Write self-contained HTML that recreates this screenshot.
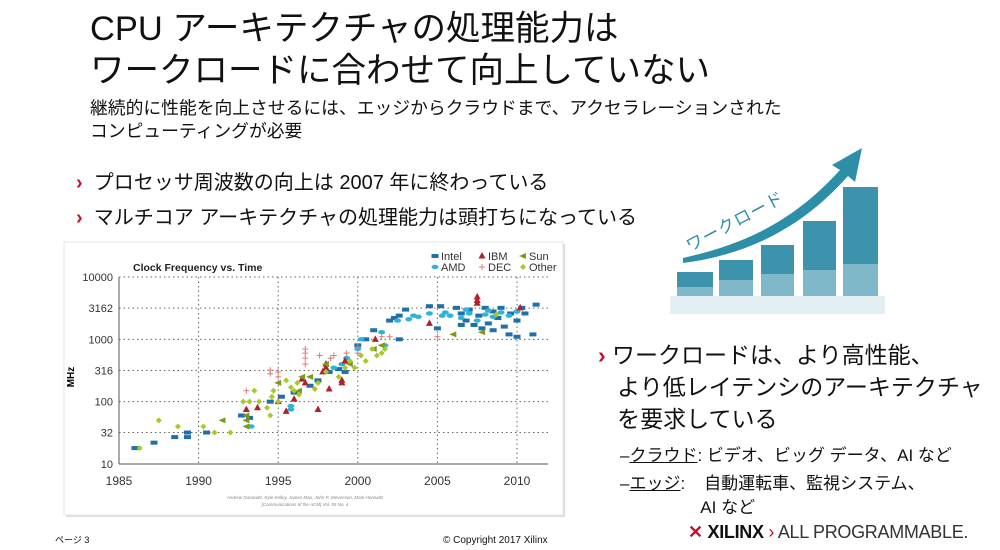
<!DOCTYPE html>
<html><head><meta charset="utf-8">
<style>
body{margin:0;width:1000px;height:550px;background:#fff;overflow:hidden;position:relative;font-family:"Liberation Sans","Noto Sans CJK JP",sans-serif;color:#111}
.a{position:absolute;white-space:nowrap}
.chev{color:#c8102e;font-weight:bold}
</style></head><body>
<div class="a" style="left:90px;top:8px;font-size:34.5px;line-height:42px">CPU アーキテクチャの処理能力は</div>
<div class="a" style="left:90px;top:50px;font-size:34.5px;line-height:42px">ワークロードに合わせて向上していない</div>
<div class="a" style="left:90px;top:97px;font-size:17.8px;line-height:23px">継続的に性能を向上させるには、エッジからクラウドまで、アクセラレーションされた<br>コンピューティングが必要</div>
<div class="a" style="left:76px;top:166px;font-size:20px"><span class="chev">›</span>&nbsp; プロセッサ周波数の向上は 2007 年に終わっている</div>
<div class="a" style="left:76px;top:201px;font-size:20px"><span class="chev">›</span>&nbsp; マルチコア アーキテクチャの処理能力は頭打ちになっている</div>

<svg class="a" style="left:0;top:0" width="1000" height="550">
<rect x="66" y="244" width="499" height="273" fill="#ddd"/>
<rect x="64" y="242" width="499" height="273" fill="#fff" stroke="#e6e6e6"/>
<g id="chart"></g>
<g>
<path d="M683,258 C740,245 790,225 840,170 L832,165 L862,148 L855,182 L848,176 C800,230 745,255 683,263 Z" fill="#2d8ea8"/>
<text x="0" y="0" transform="translate(690,252) rotate(-28)" font-size="17" fill="#2d8ea8" letter-spacing="1">ワークロード</text>
<rect x="677" y="272" width="36" height="24" fill="#3c93ab"/><rect x="677" y="287" width="36" height="9" fill="#7fb9c9"/>
<rect x="719" y="260" width="34" height="36" fill="#3c93ab"/><rect x="719" y="280" width="34" height="16" fill="#7fb9c9"/>
<rect x="761" y="245" width="33" height="51" fill="#3c93ab"/><rect x="761" y="274" width="33" height="22" fill="#7fb9c9"/>
<rect x="803" y="221" width="33" height="75" fill="#3c93ab"/><rect x="803" y="270" width="33" height="26" fill="#7fb9c9"/>
<rect x="843" y="187" width="35" height="109" fill="#3c93ab"/><rect x="843" y="264" width="35" height="32" fill="#7fb9c9"/>
<rect x="670" y="296" width="215" height="18" fill="#e3eff3"/>
</g>
</svg>

<div class="a" style="left:598px;top:339px;font-size:23px;line-height:32px"><span class="chev">›</span>&nbsp;ワークロードは、より高性能、<br>&nbsp;&nbsp;&nbsp;より低レイテンシのアーキテクチャ<br>&nbsp;&nbsp;&nbsp;を要求している</div>
<div class="a" style="left:620px;top:441px;font-size:17px">–<u>クラウド</u>: ビデオ、ビッグ データ、AI など</div>
<div class="a" style="left:620px;top:472px;font-size:17px;line-height:24px">–<u>エッジ</u>:&nbsp;&nbsp;&nbsp;&nbsp;自動運転車、監視システム、<br>&nbsp;&nbsp;&nbsp;&nbsp;&nbsp;&nbsp;&nbsp;&nbsp;&nbsp;&nbsp;&nbsp;&nbsp;&nbsp;&nbsp;&nbsp;&nbsp;&nbsp;AI など</div>
<div class="a" style="left:55px;top:533px;font-size:9px">ページ 3</div>
<div class="a" style="left:443px;top:535px;font-size:10px">© Copyright 2017 Xilinx</div>
<div class="a" style="left:688px;top:522px;font-size:18px;letter-spacing:-0.3px"><span style="color:#c8102e;font-weight:bold">✕</span> <b>XILINX</b> <span style="color:#c8102e">›</span> <span style="color:#333">ALL PROGRAMMABLE.</span></div>

<script>
const yearTicks=[1985,1990,1995,2000,2005,2010];
const mhzTicks=[10,32,100,316,1000,3162,10000];
const intel=[[1986,18],[1987.2,22],[1988.5,27],[1989.3,27],[1989.3,32],[1990.5,32],[1992.7,60],[1993.2,55],[1994.5,100],[1995.2,120],[1996,140],[1997,180],[1997.5,220],[1998.2,300],[1998.8,333],[1999.2,300],[2000,800],[2000.5,1000],[2001,1400],[2002,2000],[2002.3,2200],[2002.6,2400],[2002.6,1000],[2003,3000],[2004.5,3400],[2005.2,3400],[2005,1500],[2006.2,3200],[2006.5,2600],[2006.8,2000],[2007,3000],[2007.3,1700],[2007.6,2400],[2008,3200],[2008.2,1800],[2008.5,2800],[2008.8,2200],[2009,3200],[2009.2,1600],[2009.5,1200],[2009.6,2600],[2010,1100],[2010,2000],[2010.3,3200],[2010.5,2600],[2011,1200],[2011.2,3600],[2006.5,1700],[2007.8,1500],[2008.5,1400]];
const amd=[[1993.3,40],[1995.8,85],[1995.8,75],[1998.5,350],[1999,400],[1999.3,500],[2000,700],[2000.2,1000],[2001.5,1300],[2001.7,800],[2002.5,2000],[2003.2,2100],[2003.5,2400],[2003.8,2300],[2004.5,2600],[2005.3,2400],[2005.5,2700],[2005.8,2400],[2006.5,2200],[2007,2600],[2007.5,2000],[2008,2500],[2008.5,2300],[2009,2700],[2009.5,2400],[2010,2800],[2006.8,3000],[2008.2,2900]];
const ibm=[[1993,75],[1993.7,80],[1995,100],[1995.5,70],[1996,110],[1996.5,230],[1996.7,200],[1997.5,75],[1997.8,300],[1998,350],[1998,400],[1998.2,160],[1999,200],[1999,220],[1999.2,450],[2001.1,1000],[2004.5,1800],[2007.5,4800],[2007.5,4200],[2007.5,3800],[2010.2,3200]];
const dec=[[1993,150],[1994.5,280],[1994.5,320],[1995,300],[1995,250],[1996.7,500],[1996.7,600],[1996.7,400],[1996.7,700],[1997.6,550],[1998.3,500],[1998.5,550],[1999.3,600],[2000,750],[2000,600],[2001.5,1100],[2002,1100],[2005,1100]];
const sun=[[1991.5,50],[1993,50],[1993,40],[1993,60],[1995,200],[1996.3,150],[1996.5,250],[1997,250],[1998,400],[1999.5,400],[2001,700],[2001.5,800],[2006,1200],[2007.8,1300]];
const other=[[1986.3,18],[1987.5,50],[1988.7,40],[1990.3,40],[1991,32],[1992,32],[1992.8,100],[1993.2,100],[1993.5,150],[1993.8,100],[1994.3,80],[1994.5,60],[1994.6,120],[1994.7,150],[1995,100],[1995.5,220],[1995.8,170],[1996,150],[1996.2,200],[1996.3,130],[1997.3,160],[1997.5,200],[1998,300],[1998.8,250],[1999.2,350],[1999.5,450],[1999.8,350],[2000.2,550],[2000.5,450],[2000.9,700],[2001.2,550],[2001.5,600],[2001.7,700],[2008.7,2500]];
const series=[["intel",intel,"#1f6fa8","rect"],["amd",amd,"#2fb3d6","oval"],["ibm",ibm,"#b3202a","tri"],["dec",dec,"#e07a7a","plus"],["sun",sun,"#7a9a1a","ltri"],["other",other,"#a8c82a","dia"]];
const L=119,R=548,T=277,B=464;
const X=y=>L+(y-1985)*(517-119)/25;
const Y=m=>B-(Math.log10(m)-1)*(B-T)/3;
const g=document.getElementById('chart');
const NS='http://www.w3.org/2000/svg';
function mk(t,a,p){const e=document.createElementNS(NS,t);for(const k in a)e.setAttribute(k,a[k]);(p||g).appendChild(e);return e;}
let e=mk('text',{x:133,y:271,'font-size':10.5,'font-weight':'bold',fill:'#222'});e.textContent='Clock Frequency vs. Time';


mhzTicks.forEach(m=>{const l=mk('line',{x1:L,x2:R,y1:Y(m),y2:Y(m),stroke:m==10?'#555':'#666','stroke-dasharray':m==10?'':'1.5 3'});


const t=mk('text',{x:L-6,y:Y(m)+4,'font-size':11,'text-anchor':'end',fill:'#333'});t.textContent=m;

});
yearTicks.forEach(y=>{if(y>1985){const l=mk('line',{x1:X(y),x2:X(y),y1:T,y2:B,stroke:'#666','stroke-dasharray':'1.5 3'});

}
const t=mk('text',{x:X(y),y:B+21,'font-size':12,'text-anchor':'middle',fill:'#333'});t.textContent=y;

});
mk('line',{x1:L,x2:L,y1:T,y2:B,stroke:'#555'});
e=mk('text',{x:0,y:0,transform:'translate(74,377) rotate(-90)','font-size':10,'font-weight':'bold','text-anchor':'middle'});e.textContent='MHz';


function mark(shape,x,y,c){
 if(shape=='rect')return mk('rect',{x:x-3.5,y:y-2,width:7,height:4,fill:c});
 if(shape=='oval')return mk('ellipse',{cx:x,cy:y,rx:3.5,ry:2.2,fill:c});
 if(shape=='tri')return mk('path',{d:`M${x},${y-4}L${x+3.5},${y+2.5}L${x-3.5},${y+2.5}Z`,fill:c});
 if(shape=='plus')return mk('path',{d:`M${x-3},${y}H${x+3}M${x},${y-3}V${y+3}`,stroke:c,'stroke-width':1});
 if(shape=='ltri')return mk('path',{d:`M${x-4},${y}L${x+3},${y-3}L${x+3},${y+3}Z`,fill:c});
 return mk('path',{d:`M${x},${y-3}L${x+3},${y}L${x},${y+3}L${x-3},${y}Z`,fill:c});
}
series.forEach(([n,d,c,s])=>d.forEach(([yr,m])=>{const el=mark(s,X(yr),Y(m),c);

}));
const leg=[["Intel","rect","#1f6fa8",435,259],["IBM","tri","#b3202a",482,259],["Sun","ltri","#7a9a1a",523,259],["AMD","oval","#2fb3d6",435,270],["DEC","plus","#e07a7a",482,270],["Other","dia","#a8c82a",523,270]];
leg.forEach(([t,s,c,x,y])=>{const m=mark(s,x,y-3,c);


const tx=mk('text',{x:x+6,y:y+1,'font-size':11,fill:'#333'});tx.textContent=t;

});
e=mk('text',{x:305,y:499,'font-size':4.5,'text-anchor':'middle',fill:'#888','font-style':'italic'});e.textContent='Andrew Danowitz, Kyle Kelley, James Mao, John P. Stevenson, Mark Horowitz';


e=mk('text',{x:305,y:506,'font-size':4.5,'text-anchor':'middle',fill:'#888','font-style':'italic'});e.textContent='[Communications of the ACM] Vol. 55 No. 4';


</script>
</body></html>
